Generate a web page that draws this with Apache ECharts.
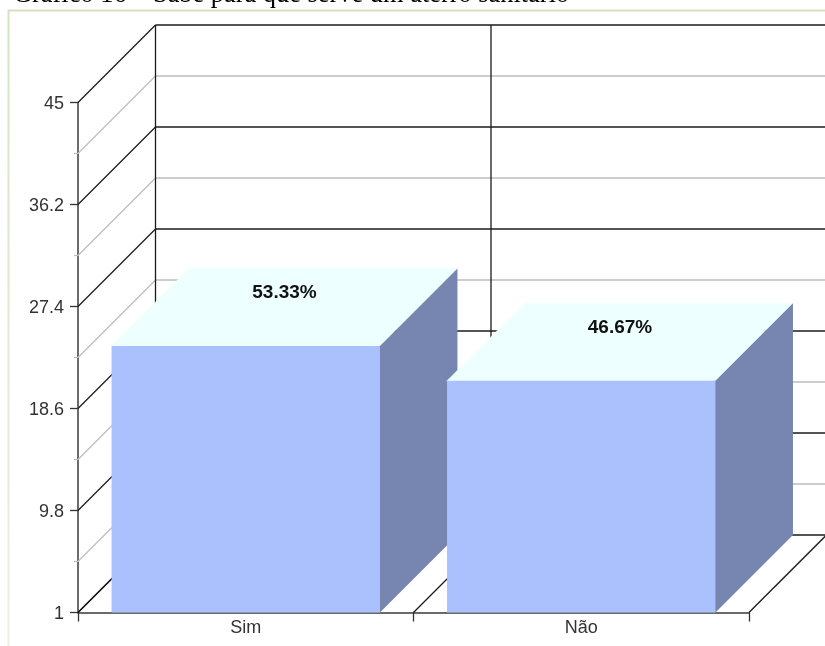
<!DOCTYPE html>
<html><head><meta charset="utf-8">
<style>html,body{margin:0;padding:0;background:#fff}#c{width:825px;height:646px}</style>
<script src="https://cdn.jsdelivr.net/npm/echarts@6/dist/echarts.min.js"></script>
</head><body><div id="c"></div>
<script>
const categories = ['Sim', 'Não'];
const values = [24, 21];
const percentLabels = ['53.33%', '46.67%'];
const majorTicks = [1, 9.8, 18.6, 27.4, 36.2, 45];
const minorTicks = [5.4, 14.2, 23, 31.8, 40.6];
const DEPTH = 77.5;
const BAR_RATIO = 0.8;
const chart = echarts.init(document.getElementById('c'), null, {renderer: 'canvas'});

function wallLines(color, stub, width) {
  return function (params, api) {
    const v = api.value(0);
    const band = api.size([1, 0])[0];
    const first = api.coord([0, v]);
    const xL = first[0] - band / 2;
    const xR = xL + band * categories.length;
    const y = first[1];
    const style = {stroke: color, lineWidth: width};
    const kids = [
      {type: 'line', shape: {x1: xL, y1: y, x2: xL + DEPTH, y2: y - DEPTH}, style},
      {type: 'line', shape: {x1: xL + DEPTH, y1: y - DEPTH, x2: xR + DEPTH, y2: y - DEPTH}, style}
    ];
    if (stub) kids.push({type: 'line', shape: {x1: xL - stub, y1: y, x2: xL, y2: y}, style});
    return {type: 'group', children: kids};
  };
}
function wallVerticals(params, api) {
  const idx = api.value(0);
  const band = api.size([1, 0])[0];
  const top = api.coord([0, majorTicks[majorTicks.length - 1]])[1];
  const bottom = api.coord([0, majorTicks[0]])[1];
  const x = api.coord([0, 0])[0] - band / 2 + band * idx;
  const style = {stroke: '#1a1a1a', lineWidth: 1.3};
  return {type: 'group', children: [
    {type: 'line', shape: {x1: x + DEPTH, y1: top - DEPTH, x2: x + DEPTH, y2: bottom - DEPTH}, style},
    {type: 'line', shape: {x1: x, y1: bottom, x2: x + DEPTH, y2: bottom - DEPTH}, style}
  ]};
}
function bar3d(params, api) {
  const i = api.value(0);
  const top = api.coord([i, api.value(1)]);
  const base = api.coord([i, majorTicks[0]]);
  const w = api.size([1, 0])[0] * BAR_RATIO;
  const l = top[0] - w / 2, r = top[0] + w / 2, t = top[1], b = base[1];
  const d = DEPTH;
  return {type: 'group', children: [
    {type: 'polygon', shape: {points: [[l, t + 1], [l, t], [l + d, t - d], [r + d, t - d], [r, t], [r, t + 1]]}, style: {fill: '#eeffff', stroke: '#eeffff', lineWidth: 0.5}},
    {type: 'polygon', shape: {points: [[r - 1, t], [r, t], [r + d, t - d], [r + d, b - d], [r, b], [r - 1, b]]}, style: {fill: '#7686b0'}},
    {type: 'rect', shape: {x: l, y: t, width: w, height: b - t}, style: {fill: '#aac1fd'}},
    {type: 'text', x: top[0] + d / 2, y: t - d / 2 - 14, style: {text: percentLabels[i], fill: '#111', font: 'bold 19px "Liberation Sans"', align: 'center', verticalAlign: 'middle'}}
  ]};
}
chart.setOption({
  animation: false,
  backgroundColor: '#fff',
  grid: {left: 78, right: 76, top: 102.5, bottom: 33.5},
  xAxis: {
    type: 'category', data: categories, boundaryGap: true,
    axisLine: {lineStyle: {color: '#3a3a3a', width: 1.5}},
    axisTick: {show: true, length: 9, lineStyle: {color: '#333', width: 1.3}},
    axisLabel: {color: '#333', fontFamily: 'Liberation Sans', fontSize: 18, margin: 7},
    splitLine: {show: false}
  },
  yAxis: {
    type: 'value', min: 1, max: 45,
    axisLine: {show: true, lineStyle: {color: '#3a3a3a', width: 1.5}},
    axisTick: {show: true, length: 8, customValues: majorTicks, lineStyle: {color: '#333', width: 1.3}},
    axisLabel: {color: '#333', fontFamily: 'Liberation Sans', fontSize: 18, margin: 14, verticalAlign: 'top', lineHeight: 4, customValues: majorTicks, formatter: v => String(v)},
    splitLine: {show: false}
  },
  graphic: [
    {type: 'text', left: 13, top: -18, z: 10, style: {text: 'Gráfico 16 – Sabe para que serve um aterro sanitário', fill: '#000', font: '26.4px "Liberation Serif"'}},
    {type: 'line', shape: {x1: 8, y1: 10.5, x2: 825, y2: 10.5}, style: {stroke: '#d6e2c2', lineWidth: 2}, z: 0},
    {type: 'line', shape: {x1: 8.5, y1: 10, x2: 8.5, y2: 646}, style: {lineWidth: 2, stroke: {type: 'linear', x: 0, y: 0, x2: 0, y2: 1, colorStops: [{offset: 0, color: '#d6e2c2'}, {offset: 1, color: '#edefe8'}]}}, z: 0}
  ],
  series: [
    {type: 'custom', coordinateSystem: 'cartesian2d', z: 1, clip: false, silent: true, renderItem: wallLines('#bdbdbd', 4, 1.3), data: minorTicks.map(v => [v])},
    {type: 'custom', coordinateSystem: 'cartesian2d', z: 1, clip: false, silent: true, renderItem: wallLines('#1a1a1a', 0, 1.3), data: majorTicks.map(v => [v])},
    {type: 'custom', coordinateSystem: 'cartesian2d', z: 1, clip: false, silent: true, renderItem: wallVerticals, data: [0, 1, 2].map(v => [v])},
    {type: 'custom', coordinateSystem: 'cartesian2d', z: 3, clip: false, renderItem: bar3d, encode: {x: 0, y: 1}, data: values.map((v, i) => [i, v])}
  ]
});
</script></body></html>
